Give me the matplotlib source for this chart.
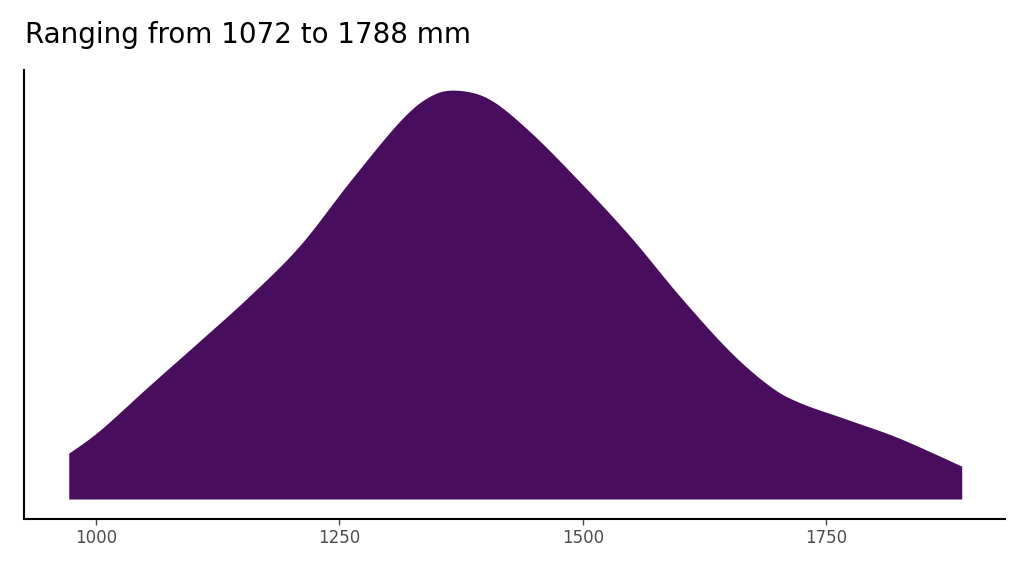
import matplotlib
matplotlib.use("Agg")
import matplotlib.pyplot as plt
import numpy as np

x = [972, 1004, 1055, 1107, 1158, 1209, 1261, 1312, 1343, 1370, 1404, 1445, 1496, 1548, 1599, 1650, 1691, 1722, 1774, 1825, 1889]
density = [0.00023, 0.000345, 0.00057, 0.000795, 0.00102, 0.00127, 0.001595, 0.001895, 0.00202, 0.00205, 0.002005, 0.001845, 0.001595, 0.00132, 0.00102, 0.000745, 0.00057, 0.000485, 0.000395, 0.000305, 0.000165]
title = "Ranging from 1072 to 1788 mm"

# smooth via Catmull-Rom through read points
xs, ys = [], []
P = np.array(list(zip(x, density)))
Pe = np.vstack([P[0], P, P[-1]])
for i in range(1, len(Pe) - 2):
    p0, p1, p2, p3 = Pe[i-1], Pe[i], Pe[i+1], Pe[i+2]
    for t in np.linspace(0, 1, 20, endpoint=False):
        pt = 0.5 * ((2*p1) + (-p0+p2)*t + (2*p0-5*p1+4*p2-p3)*t**2 + (-p0+3*p1-3*p2+p3)*t**3)
        xs.append(pt[0]); ys.append(pt[1])
xs.append(P[-1][0]); ys.append(P[-1][1])

fig = plt.figure(figsize=(10.24, 5.76), dpi=100)
ax = fig.add_axes([0.0234, 0.099, 0.9576, 0.779])
ax.fill_between(xs, 0, ys, color="#480D5D", linewidth=0)
ax.set_xlim(926, 1933)
ax.set_ylim(-0.0001, 0.00215)
ax.set_yticks([])
ax.set_xticks([1000, 1250, 1500, 1750])
ax.tick_params(axis="x", labelsize=12, colors="#4d4d4d", length=4, width=1)
for s in ["top", "right"]:
    ax.spines[s].set_visible(False)
for s in ["left", "bottom"]:
    ax.spines[s].set_linewidth(1.5)
fig.text(0.024, 0.915, title, fontsize=20, ha="left", va="bottom")
fig.savefig("out.png", dpi=100)
